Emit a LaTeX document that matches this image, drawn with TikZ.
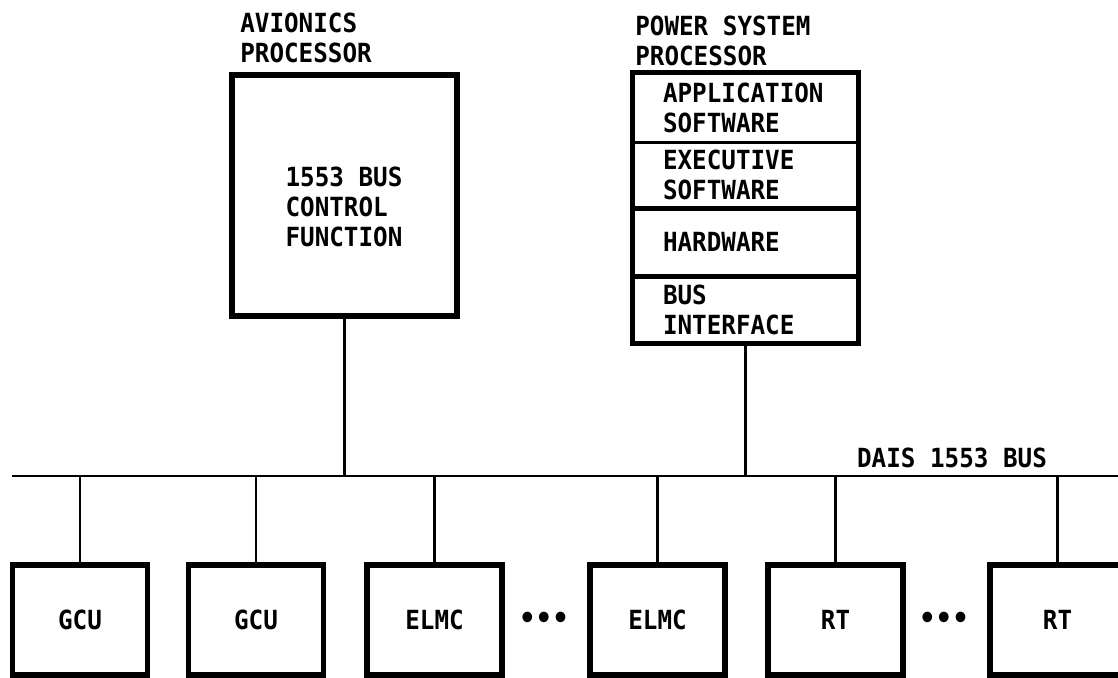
\documentclass[tikz,border=0pt]{standalone}
\usepackage{fontspec}
\setmainfont{DejaVu Sans Mono}[FakeStretch=0.92]
\usepackage{tikz}

\begin{document}
\begin{tikzpicture}[
    x=0.02cm,
    y=-0.02cm,
    every node/.style={font=\bfseries\fontsize{15}{17}\selectfont, inner sep=0pt},
    unitbox/.style={draw, line width=3pt, minimum width=2.7cm, minimum height=2.2cm},
    layer/.style={minimum width=4.5cm, text width=3.3cm, align=left},
    wire/.style={line width=1.6pt},
    heavy/.style={line width=3pt},
]

% Page size 1118 x 677 units
\useasboundingbox (0,0) rectangle (1118,677);

% Avionics processor
\node[draw, heavy, minimum width=4.5cm, minimum height=4.82cm] (av) at (344.5,195.5) {};
\node[align=left] (avtext) at (344,207) {1553 BUS\\CONTROL\\FUNCTION};
\node[align=left, anchor=west] (avlabel) at (240,38) {AVIONICS\\PROCESSOR};

% Power system processor, four layers
\node[layer, minimum height=1.38cm] (app) at (745.5,107.5) {APPLICATION\\SOFTWARE};
\node[layer, minimum height=1.32cm] (exe) at (745.5,175) {EXECUTIVE\\SOFTWARE};
\node[layer, minimum height=1.36cm] (hw) at (745.5,242) {HARDWARE};
\node[layer, minimum height=1.34cm] (bi) at (745.5,309.5) {BUS\\INTERFACE};
\node[align=left, anchor=west] (pslabel) at (635,41) {POWER SYSTEM\\PROCESSOR};

\draw[heavy] (app.north west) rectangle (bi.south east);
\draw[wire] (app.south west) -- (app.south east);
\draw[heavy] (exe.south west) -- (exe.south east);
\draw[heavy] (hw.south west) -- (hw.south east);

% Bus
\coordinate (busW) at (12,476);
\coordinate (busE) at (1118,476);
\draw[wire] (busW) -- (busE);
\node (buslabel) at (952,458) {DAIS 1553 BUS};

\draw[wire] (av.south) -- (av.south |- busW);
\draw[wire] (bi.south) -- (bi.south |- busW);

% Terminals on the bus
\foreach \name/\x/\txt in {gcuA/80/GCU, gcuB/256/GCU, elmcA/434.5/ELMC,
                           elmcB/657.5/ELMC, rtA/835.5/RT, rtB/1057.5/RT} {
  \node[unitbox] (\name) at (\x,620) {\txt};
  \draw[wire] (\name.north) -- (\name.north |- busW);
}

% Ellipses
\node[font=\bfseries\fontsize{17}{17}\selectfont] (dotsA) at (544,620) {•••};
\node[font=\bfseries\fontsize{17}{17}\selectfont] (dotsB) at (944,620) {•••};

\end{tikzpicture}
\end{document}
